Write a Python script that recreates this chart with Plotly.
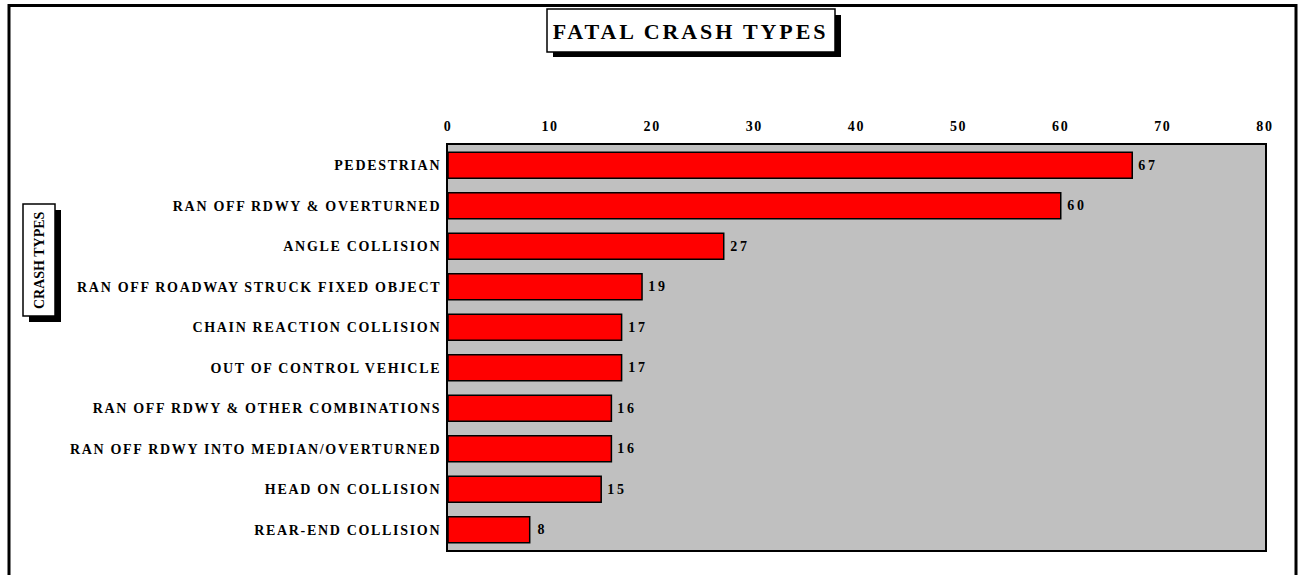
import plotly.graph_objects as go

categories = [
    "PEDESTRIAN",
    "RAN OFF RDWY & OVERTURNED",
    "ANGLE COLLISION",
    "RAN OFF ROADWAY STRUCK FIXED OBJECT",
    "CHAIN REACTION COLLISION",
    "OUT OF CONTROL VEHICLE",
    "RAN OFF RDWY & OTHER COMBINATIONS",
    "RAN OFF RDWY INTO MEDIAN/OVERTURNED",
    "HEAD ON COLLISION",
    "REAR-END COLLISION",
]
values = [67, 60, 27, 19, 17, 17, 16, 16, 15, 8]
x_ticks = [0, 10, 20, 30, 40, 50, 60, 70, 80]

W, H = 1299, 575
L, R, T, B = 448, 34, 145, 25
PW, PH = W - L - R, H - T - B

def px(x):
    return (x - L) / PW

def py(y):
    return 1 - (y - T) / PH

FONT = "Liberation Serif, Times New Roman, serif"

fig = go.Figure(go.Bar(
    x=values, y=categories, orientation="h",
    marker=dict(color="#FF0000", line=dict(color="black", width=1.5)),
    width=0.64,
))

shapes = []
# outer frame
shapes.append(dict(type="rect", xref="paper", yref="paper",
                   x0=px(9), x1=px(1296), y0=py(5.5), y1=py(600),
                   line=dict(color="black", width=3), layer="below"))
# title box shadow + box
shapes.append(dict(type="rect", xref="paper", yref="paper",
                   x0=px(553), x1=px(841), y0=py(15), y1=py(57),
                   fillcolor="black", line=dict(width=0), layer="above"))
shapes.append(dict(type="rect", xref="paper", yref="paper",
                   x0=px(547), x1=px(835), y0=py(9), y1=py(52),
                   fillcolor="white", line=dict(color="black", width=1.5), layer="above"))
# y title box shadow + box
shapes.append(dict(type="rect", xref="paper", yref="paper",
                   x0=px(29), x1=px(61), y0=py(210), y1=py(322),
                   fillcolor="black", line=dict(width=0), layer="above"))
shapes.append(dict(type="rect", xref="paper", yref="paper",
                   x0=px(23), x1=px(55), y0=py(204), y1=py(316),
                   fillcolor="white", line=dict(color="black", width=1.5), layer="above"))

annotations = [
    dict(text="FATAL CRASH TYPES", xref="paper", yref="paper",
         x=px(690), y=py(31), showarrow=False, xanchor="center", yanchor="middle",
         font=dict(family=FONT, size=22, color="black", weight="bold")),
    dict(text="CRASH TYPES", xref="paper", yref="paper", textangle=-90,
         x=px(39), y=py(260), showarrow=False, xanchor="center", yanchor="middle",
         font=dict(family=FONT, size=14, color="black", weight="bold")),
]
for cat, val in zip(categories, values):
    annotations.append(dict(
        text=str(val), x=val, y=cat, xref="x", yref="y",
        showarrow=False, xanchor="left", yanchor="middle", xshift=7,
        font=dict(family=FONT, size=14, color="black", weight="bold")))

fig.update_layout(
    width=W, height=H,
    margin=dict(l=L, r=R, t=T, b=B, pad=0),
    paper_bgcolor="white", plot_bgcolor="#C0C0C0",
    showlegend=False,
    shapes=shapes, annotations=annotations,
    bargap=0.36,
)
fig.update_xaxes(
    side="top", range=[0, 80], tickvals=x_ticks, ticktext=[str(v) for v in x_ticks],
    showgrid=False, zeroline=False, showline=True, linecolor="black", linewidth=2, mirror=True,
    ticks="outside", ticklen=6, tickcolor="rgba(0,0,0,0)",
    tickfont=dict(family=FONT, size=14, color="black", weight="bold"),
)
fig.update_yaxes(
    autorange="reversed", showgrid=False, zeroline=False,
    showline=True, linecolor="black", linewidth=2, mirror=True,
    ticks="outside", ticklen=2, tickcolor="rgba(0,0,0,0)",
    tickfont=dict(family=FONT, size=14, color="black", weight="bold"),
)

css = ("body{margin:0;overflow:hidden}"
       ".js-plotly-plot svg text{letter-spacing:0.12em}"
       ".js-plotly-plot .annotation text{letter-spacing:0.2em}"
       ".js-plotly-plot .annotation[data-index='0'] text{letter-spacing:0.13em}"
       ".js-plotly-plot .annotation[data-index='1'] text{letter-spacing:0}")
post = ("var s=document.createElement('style');s.textContent=\"" + css + "\";"
        "document.head.appendChild(s);")

fig.write_html("out.html", post_script=post, config={"displayModeBar": False})
